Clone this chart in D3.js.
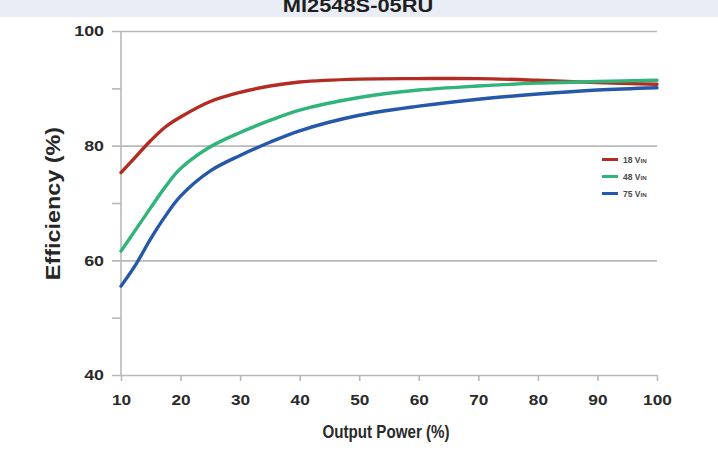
<!DOCTYPE html>
<html>
<head>
<meta charset="utf-8">
<script src="https://cdn.jsdelivr.net/npm/d3@7"></script>
<style>
  html, body { margin: 0; padding: 0; background: #fff; }
  svg { display: block; font-family: "Liberation Sans", Arial, Helvetica, sans-serif; }
</style>
</head>
<body>
<svg id="chart" width="718" height="466"></svg>
<script>
// Efficiency vs. output power for three input voltages
const chartTitle = "MI2548S-05RU";
const outputPower = [10, 12.5, 15, 17.5, 20, 25, 30, 35, 40, 50, 60, 70, 80, 90, 100];
const eff18 = [75.3, 78.1, 80.9, 83.3, 85.0, 87.7, 89.3, 90.4, 91.1, 91.6, 91.7, 91.7, 91.4, 91.0, 90.7];
const eff48 = [61.6, 65.4, 69.2, 72.9, 76.0, 79.8, 82.3, 84.4, 86.2, 88.4, 89.7, 90.4, 90.9, 91.2, 91.4];
const eff75 = [55.5, 59.3, 63.8, 67.8, 71.2, 75.6, 78.3, 80.6, 82.6, 85.3, 86.9, 88.1, 89.0, 89.7, 90.1];
const seriesNames = ["18", "48", "75"];
const seriesColors = ["#b42b22", "#30b47a", "#2558a8"];
const xTicks = [10, 20, 30, 40, 50, 60, 70, 80, 90, 100];
const yMajorTicks = [40, 60, 80, 100];
const yMinorTicks = [50, 70, 90];

const series = [eff18, eff48, eff75].map((vals, i) => ({
  name: seriesNames[i],
  color: seriesColors[i],
  points: outputPower.map((p, j) => ({ p, v: vals[j] }))
}));

const svg = d3.select("#chart");
const stretch = "scale(1.15,1)";
const gridColor = "#b9b9b9";

const x = d3.scaleLinear().domain([10, 100]).range([121, 657]);
const y = d3.scaleLinear().domain([40, 100]).range([375, 31]);

// title band
svg.append("rect").attr("x", 0).attr("y", 0).attr("width", 718).attr("height", 17)
  .attr("fill", "#e9eef6");
svg.append("text")
  .attr("transform", "translate(358,12) " + stretch)
  .attr("text-anchor", "middle")
  .attr("font-size", 19).attr("font-weight", "bold").attr("fill", "#1f1f1f")
  .text(chartTitle);

// horizontal grid + major ticks and labels
const yAxis = svg.append("g")
  .attr("transform", "translate(112,0)")
  .call(d3.axisLeft(y).tickValues(yMajorTicks).tickSize(-(657 - 112)).tickSizeOuter(0).tickPadding(7));
yAxis.select(".domain").remove();
yAxis.selectAll(".tick line").attr("stroke", gridColor).attr("stroke-width", 1.6);
yAxis.selectAll(".tick text")
  .attr("transform", stretch)
  .attr("font-size", 15.5).attr("font-weight", "bold").attr("fill", "#2a2a2a")
  .attr("font-family", "Liberation Sans, Arial, sans-serif");

// minor ticks on the left
const yMinor = svg.append("g")
  .attr("transform", "translate(121,0)")
  .call(d3.axisLeft(y).tickValues(yMinorTicks).tickSize(9).tickSizeOuter(0).tickFormat(""));
yMinor.select(".domain").remove();
yMinor.selectAll(".tick line").attr("stroke", gridColor).attr("stroke-width", 1.6);

// vertical axis line
svg.append("line")
  .attr("x1", x(10)).attr("x2", x(10)).attr("y1", y(100)).attr("y2", y(40))
  .attr("stroke", gridColor).attr("stroke-width", 1.6);

// bottom axis
const xAxis = svg.append("g")
  .attr("transform", `translate(0,${y(40)})`)
  .call(d3.axisBottom(x).tickValues(xTicks).tickSize(6).tickSizeOuter(0).tickPadding(13));
xAxis.select(".domain").remove();
xAxis.selectAll(".tick line").attr("stroke", gridColor).attr("stroke-width", 1.6);
xAxis.selectAll(".tick text")
  .attr("transform", stretch)
  .attr("font-size", 15).attr("font-weight", "bold").attr("fill", "#2a2a2a")
  .attr("font-family", "Liberation Sans, Arial, sans-serif");

// axis titles
svg.append("text")
  .attr("transform", "translate(60,203.5) rotate(-90) scale(1.2,1)")
  .attr("text-anchor", "middle")
  .attr("font-size", 19.5).attr("font-weight", "bold").attr("fill", "#262626")
  .text("Efficiency (%)");
svg.append("text")
  .attr("transform", "translate(386,438) scale(0.82,1)")
  .attr("text-anchor", "middle")
  .attr("font-size", 18.5).attr("font-weight", "bold").attr("fill", "#2a2a2a")
  .text("Output Power (%)");

// efficiency curves
const line = d3.line()
  .x(d => x(d.p))
  .y(d => y(d.v))
  .curve(d3.curveCatmullRom.alpha(0.5));

svg.append("g").selectAll("path")
  .data(series)
  .join("path")
  .attr("d", d => line(d.points))
  .attr("fill", "none")
  .attr("stroke", d => d.color)
  .attr("stroke-width", 3.4)
  .attr("stroke-linejoin", "round")
  .attr("stroke-linecap", "round");

// legend
const legend = svg.append("g").selectAll("g")
  .data(series)
  .join("g")
  .attr("transform", (d, i) => `translate(602,${159.5 + i * 17})`);
legend.append("line")
  .attr("x1", 0).attr("x2", 16).attr("y1", 0).attr("y2", 0)
  .attr("stroke", d => d.color).attr("stroke-width", 3);
const lt = legend.append("text")
  .attr("x", 21).attr("y", 3.3)
  .attr("font-size", 8.5).attr("font-weight", "bold").attr("fill", "#4a4a4a");
lt.append("tspan").text(d => d.name + " V");
lt.append("tspan").attr("font-size", 6.2).text("IN");
</script>
</body>
</html>
